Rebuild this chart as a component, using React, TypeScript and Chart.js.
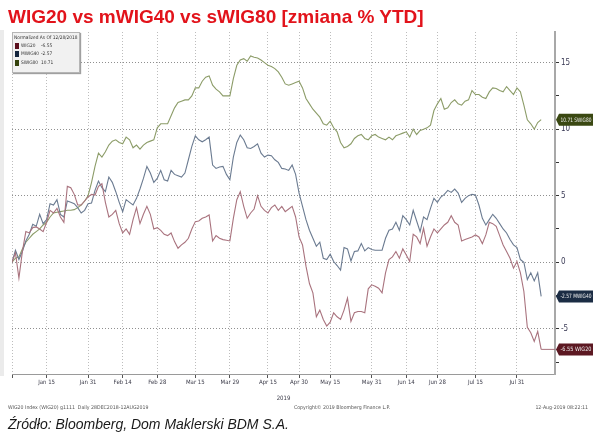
import React, { useEffect, useRef } from 'react';
import { Chart, registerables } from 'chart.js';

Chart.register(...registerables);

// ---- data ----
const seriesNames = ['WIG20', 'MWIG40', 'SWIG80'];
const lastLabels = ['-6.55', '-2.57', '10.71'];

// trading-day index 0 = 28 Dec 2018 ... 153 = 9 Aug 2019 (normalized % change)
const wig20 = [
  0, 0.7, -1.2, 0.8, 2.3, 2.2, 2.6, 2.65, 2.5, 2.3,
  3.0, 3.9, 3.7, 4.05, 3.4, 3.0, 5.7, 5.6, 5.1, 4.3,
  4.3, 4.6, 4.9, 5.1, 5.05, 5.7, 5.9, 4.5, 3.4, 3.6,
  3.9, 2.9, 2.2, 2.5, 2.1, 3.2, 4.1, 2.9, 3.6, 4.2,
  3.6, 2.5, 2.6, 2.4, 2.1, 2.0, 2.2, 1.55, 1.05, 1.3,
  1.5, 1.8, 2.5, 3.05, 3.1, 3.3, 3.4, 3.55, 1.6, 2.0,
  1.8, 1.7, 1.65, 1.6, 3.3, 4.7, 5.3, 4.2, 3.3, 3.7,
  4.0, 5.0, 4.2, 3.9, 3.7, 4.1, 4.3, 3.9, 4.2, 3.8,
  4.0, 4.2, 3.4, 1.9, 1.3, -0.3, -1.6, -2.3, -4.1, -3.6,
  -4.3, -4.8, -4.5, -3.8, -4.1, -4.3, -3.6, -2.7, -4.45, -3.8,
  -3.7, -3.7, -3.8, -2.0, -1.7, -1.8, -1.95, -2.3, -0.8, 0.2,
  0.4, 0.8, 0.3, 1.0, 0.55, 0.05, 2.1, 1.9, 1.4, 2.55,
  1.2, 1.9, 2.5, 2.2, 2.5, 2.8, 3.0, 3.5, 3.0, 2.8,
  1.6, 1.7, 1.8, 1.9, 2.05, 1.9, 1.4, 2.05, 3.0, 2.9,
  2.7, 2.0, 1.3, 0.8, 0.3, -0.45, 0.05, -0.8, -2.2, -4.9,
  -5.3, -5.95, -5.2, -6.55,
];

const mwig40 = [
  0, 0.9, 0.2, 0.8, 1.6, 2.1, 2.85, 2.7, 3.6, 2.9,
  3.2, 4.4, 4.3, 4.7, 3.6, 3.4, 4.6, 4.5, 4.4, 4.1,
  3.7, 3.9, 4.4, 4.45, 5.4, 6.1, 5.6, 5.3, 6.4, 6.0,
  5.3, 4.5, 3.8, 4.7, 4.5, 4.3, 4.8, 5.5, 6.3, 7.2,
  6.7, 6.0, 6.3, 6.9, 6.2, 6.1, 6.9, 6.6, 6.5, 6.4,
  6.7, 7.7, 8.7, 9.5, 9.2, 9.05, 9.2, 9.4, 7.3, 7.05,
  7.15, 7.2, 6.6, 6.2, 7.9, 9.0, 9.55, 9.2, 8.6, 8.55,
  8.7, 8.9, 8.2, 7.9, 8.05, 8.0, 7.7, 7.5, 7.05, 7.0,
  6.9, 7.3, 6.6, 5.2, 4.2, 3.2, 2.4, 1.8, 1.2, 1.5,
  0.3, 0.2, 0.6, 0.05, -0.25, -0.6, 1.1, 1.0, 0.1, 0.8,
  0.85, 1.4, 0.85, 1.1, 0.95, 0.9, 0.9, 0.9, 1.8, 2.4,
  2.5, 3.0, 2.4, 3.5, 3.2, 2.8, 3.9, 3.1, 2.3, 3.4,
  3.2, 4.05, 4.8, 4.5, 4.9, 5.1, 5.4, 5.25, 5.5, 5.2,
  4.5, 4.8, 5.0, 5.1, 5.05, 4.3, 3.3, 2.8, 3.2, 3.6,
  3.3, 2.9, 2.5, 2.2, 1.7, 1.3, 1.1, 0.2, 0, -1.3,
  -0.8, -1.4, -0.8, -2.57,
];

const swig80 = [
  0, 0.3, 0.4, 1.0, 1.5, 1.8, 2.1, 2.3, 2.5, 2.8,
  3.0, 3.4, 3.7, 3.75, 3.8, 3.85, 3.9, 3.9, 3.95, 4.1,
  4.3, 4.6, 5.0, 6.0, 7.2, 8.2, 7.9, 8.3, 8.8, 9.1,
  9.2, 9.0, 8.9, 9.4, 9.2, 8.6, 8.8, 8.5, 8.8, 9.0,
  9.1, 9.2, 10.1, 10.4, 10.4, 10.4, 11.0, 11.6, 12.0, 12.1,
  12.2, 12.2, 12.5, 13.1, 13.1, 13.6, 13.9, 14.0, 13.3, 13.0,
  12.8, 12.5, 12.5, 12.5, 13.8, 14.8, 15.2, 15.3, 15.1, 15.5,
  15.4, 15.35, 15.2, 15.0, 14.8, 14.7, 14.55, 14.3, 13.9, 13.4,
  13.3, 13.4, 13.5, 13.6, 13.1, 12.3, 11.9, 11.5, 11.2, 10.9,
  10.4, 10.3, 10.6, 10.1, 9.8, 9.0, 8.6, 8.7, 8.9, 9.3,
  9.5, 9.6, 9.3, 9.2, 9.5, 9.6, 9.4, 9.3, 9.2, 9.4,
  9.2, 9.5, 9.6, 9.7, 9.8, 9.4, 10.0, 9.6, 9.9, 10.0,
  10.1, 10.3, 11.4, 11.9, 12.3, 11.5, 11.6, 12.0, 12.2, 11.9,
  11.8, 12.1, 12.2, 12.9, 12.6, 12.6, 12.4, 12.3, 12.8, 13.1,
  13.05, 12.9, 12.8, 13.2, 12.9, 12.6, 13.1, 12.8, 11.8, 10.7,
  10.4, 10.0, 10.5, 10.71,
];

const tickIdx = [0, 10, 22, 32, 42, 53, 63, 74, 83, 92, 104, 114, 123, 134, 146];
const tickLabels = ['', 'Jan 15', 'Jan 31', 'Feb 14', 'Feb 28', 'Mar 15', 'Mar 29', 'Apr 15', 'Apr 30', 'May 15', 'May 31', 'Jun 14', 'Jun 28', 'Jul 15', 'Jul 31'];
const yearLabel = '2019';

const lineColors = ['#a9737e', '#6b7b91', '#8c9c68'];
const tagColors = ['#5c1822', '#1b2c44', '#3a4812'];
const swatchColors = ['#5a0e1c', '#13243c', '#34420c'];

const NARROW = '"Liberation Sans Narrow", "DejaVu Sans Condensed", "Liberation Sans", sans-serif';

const tagPlugin = {
  id: 'lastTags',
  afterDraw(chart: any) {
    const ctx = chart.ctx;
    const area = chart.chartArea;
    chart.data.datasets.forEach((ds: any, di: number) => {
      const meta = chart.getDatasetMeta(di);
      const pt = meta.data[meta.data.length - 1];
      if (!pt) return;
      const y = pt.y;
      const x0 = area.right;
      ctx.save();
      if (ds.extendToAxis) {
        ctx.strokeStyle = ds.borderColor;
        ctx.lineWidth = 1;
        ctx.beginPath();
        ctx.moveTo(pt.x, y);
        ctx.lineTo(x0, y);
        ctx.stroke();
      }
      ctx.fillStyle = tagColors[di];
      ctx.beginPath();
      ctx.moveTo(x0 + 1, y);
      ctx.lineTo(x0 + 4, y - 6);
      ctx.lineTo(x0 + 38, y - 6);
      ctx.lineTo(x0 + 38, y + 6);
      ctx.lineTo(x0 + 4, y + 6);
      ctx.closePath();
      ctx.fill();
      ctx.fillStyle = '#eeeeee';
      ctx.font = `6px ${NARROW}`;
      ctx.textBaseline = 'middle';
      ctx.textAlign = 'left';
      const txt = `${lastLabels[di]} ${seriesNames[di]}`;
      const w = ctx.measureText(txt).width;
      const k = Math.min(1, 31 / w);
      ctx.translate(x0 + 5.5, y + 0.5);
      ctx.scale(k, 1);
      ctx.fillText(txt, 0, 0);
      ctx.restore();
    });
  },
};

export default function App() {
  const canvasRef = useRef<HTMLCanvasElement | null>(null);

  useEffect(() => {
    if (!canvasRef.current) return;
    const series = [wig20, mwig40, swig80];
    const chart = new Chart(canvasRef.current, {
      type: 'line',
      data: {
        datasets: series.map((vals, i) => ({
          label: seriesNames[i],
          data: vals.map((y, x) => ({ x, y })),
          borderColor: lineColors[i],
          borderWidth: 1.1,
          pointRadius: 0,
          tension: 0,
          fill: false,
          extendToAxis: i === 0,
        })) as any,
      },
      options: {
        animation: false,
        responsive: false,
        maintainAspectRatio: false,
        events: [],
        layout: { padding: { left: 12, top: 32, right: 0, bottom: 30 } },
        plugins: { legend: { display: false }, tooltip: { enabled: false }, title: { display: false } },
        scales: {
          x: {
            type: 'linear',
            min: 0,
            max: 157,
            afterBuildTicks: (s: any) => {
              s.ticks = tickIdx.map((v) => ({ value: v }));
            },
            afterFit: (s: any) => {
              s.height = 28;
            },
            ticks: {
              autoSkip: false,
              maxRotation: 0,
              padding: 1,
              color: '#3a3a48',
              font: { family: NARROW, size: 6 },
              callback: (v: any) => {
                const k = tickIdx.indexOf(Number(v));
                return k >= 0 ? tickLabels[k] : '';
              },
            },
            grid: {
              color: '#bdbdbd',
              lineWidth: 1,
              drawTicks: true,
              tickLength: 4,
              tickColor: '#555',
            },
            border: { display: true, color: '#9a9a9a', width: 1, dash: [1, 2] },
            title: {
              display: true,
              text: yearLabel,
              color: '#3a3a48',
              font: { family: NARROW, size: 6 },
              padding: { top: 2, bottom: 0 },
            },
          },
          y: {
            type: 'linear',
            position: 'right',
            min: -8.4,
            max: 17.3,
            afterFit: (s: any) => {
              s.width = 41;
            },
            ticks: {
              stepSize: 2.5,
              includeBounds: false,
              padding: 2,
              color: '#3a3a55',
              font: { family: NARROW, size: 8 },
              callback: (v: any) => (Number(v) % 5 === 0 ? String(v) : ''),
            },
            grid: {
              color: (c: any) => (c.tick && c.tick.value % 5 === 0 ? '#8f8f8f' : 'rgba(0,0,0,0)'),
              lineWidth: 1,
              drawTicks: true,
              tickLength: 4,
              tickColor: '#333',
            },
            border: { display: true, color: '#a8a8a8', width: 2, dash: [1, 2] },
          },
        },
      } as any,
      plugins: [tagPlugin],
    });
    return () => chart.destroy();
  }, []);

  const small = { position: 'absolute' as const, fontFamily: NARROW, fontSize: 4.8, lineHeight: '6px', color: '#333', whiteSpace: 'nowrap' as const };

  return (
    <div style={{ position: 'fixed', left: 0, top: 0, width: 596, height: 432, background: '#fff', overflow: 'hidden' }}>
      <div style={{ position: 'absolute', left: 0, top: 30, width: 4, height: 346, background: '#ebebeb' }} />
      <canvas ref={canvasRef} width={596} height={432} style={{ position: 'absolute', left: 0, top: 0, width: 596, height: 432 }} />
      <div
        style={{
          position: 'absolute', left: 8, top: 6, fontFamily: '"Liberation Sans", Arial, sans-serif',
          fontWeight: 'bold', fontSize: 19, lineHeight: '22px', color: '#e2131b', whiteSpace: 'nowrap',
        }}
      >
        WIG20 vs mWIG40 vs sWIG80 [zmiana % YTD]
      </div>
      <div
        style={{
          position: 'absolute', left: 12, top: 32, width: 68, height: 41, background: '#f1f1f1',
          border: '1px solid #b5b5b5', boxShadow: '1px 1px 1px #a0a0a0', boxSizing: 'border-box',
        }}
      />
      <div style={{ ...small, left: 14, top: 34.5 }}>Normalized As Of 12/28/2018</div>
      {seriesNames.map((n, i) => (
        <React.Fragment key={n}>
          <div style={{ position: 'absolute', left: 15, top: 43 + i * 8.3, width: 4, height: 6, background: swatchColors[i] }} />
          <div style={{ ...small, left: 21, top: 43 + i * 8.3 }}>{n}</div>
          <div style={{ ...small, left: 41, top: 43 + i * 8.3 }}>{lastLabels[i]}</div>
        </React.Fragment>
      ))}
      <div style={{ position: 'absolute', left: 8, top: 404, fontFamily: NARROW, fontSize: 5.2, color: '#555', whiteSpace: 'nowrap' }}>
        WIG20 Index (WIG20) g1111&nbsp;&nbsp;Daily 28DEC2018-12AUG2019
      </div>
      <div style={{ position: 'absolute', left: 294, top: 404, fontFamily: NARROW, fontSize: 5.2, color: '#555', whiteSpace: 'nowrap' }}>
        Copyright© 2019 Bloomberg Finance L.P.
      </div>
      <div style={{ position: 'absolute', right: 8, top: 404, fontFamily: NARROW, fontSize: 5.2, color: '#555', whiteSpace: 'nowrap' }}>
        12-Aug-2019 08:22:11
      </div>
      <div
        style={{
          position: 'absolute', left: 8, top: 416, fontFamily: '"Liberation Sans", Arial, sans-serif', fontStyle: 'italic',
          fontSize: 14, lineHeight: '17px', color: '#1a1a1a', whiteSpace: 'nowrap',
        }}
      >
        Źródło: Bloomberg, Dom Maklerski BDM S.A.
      </div>
    </div>
  );
}
